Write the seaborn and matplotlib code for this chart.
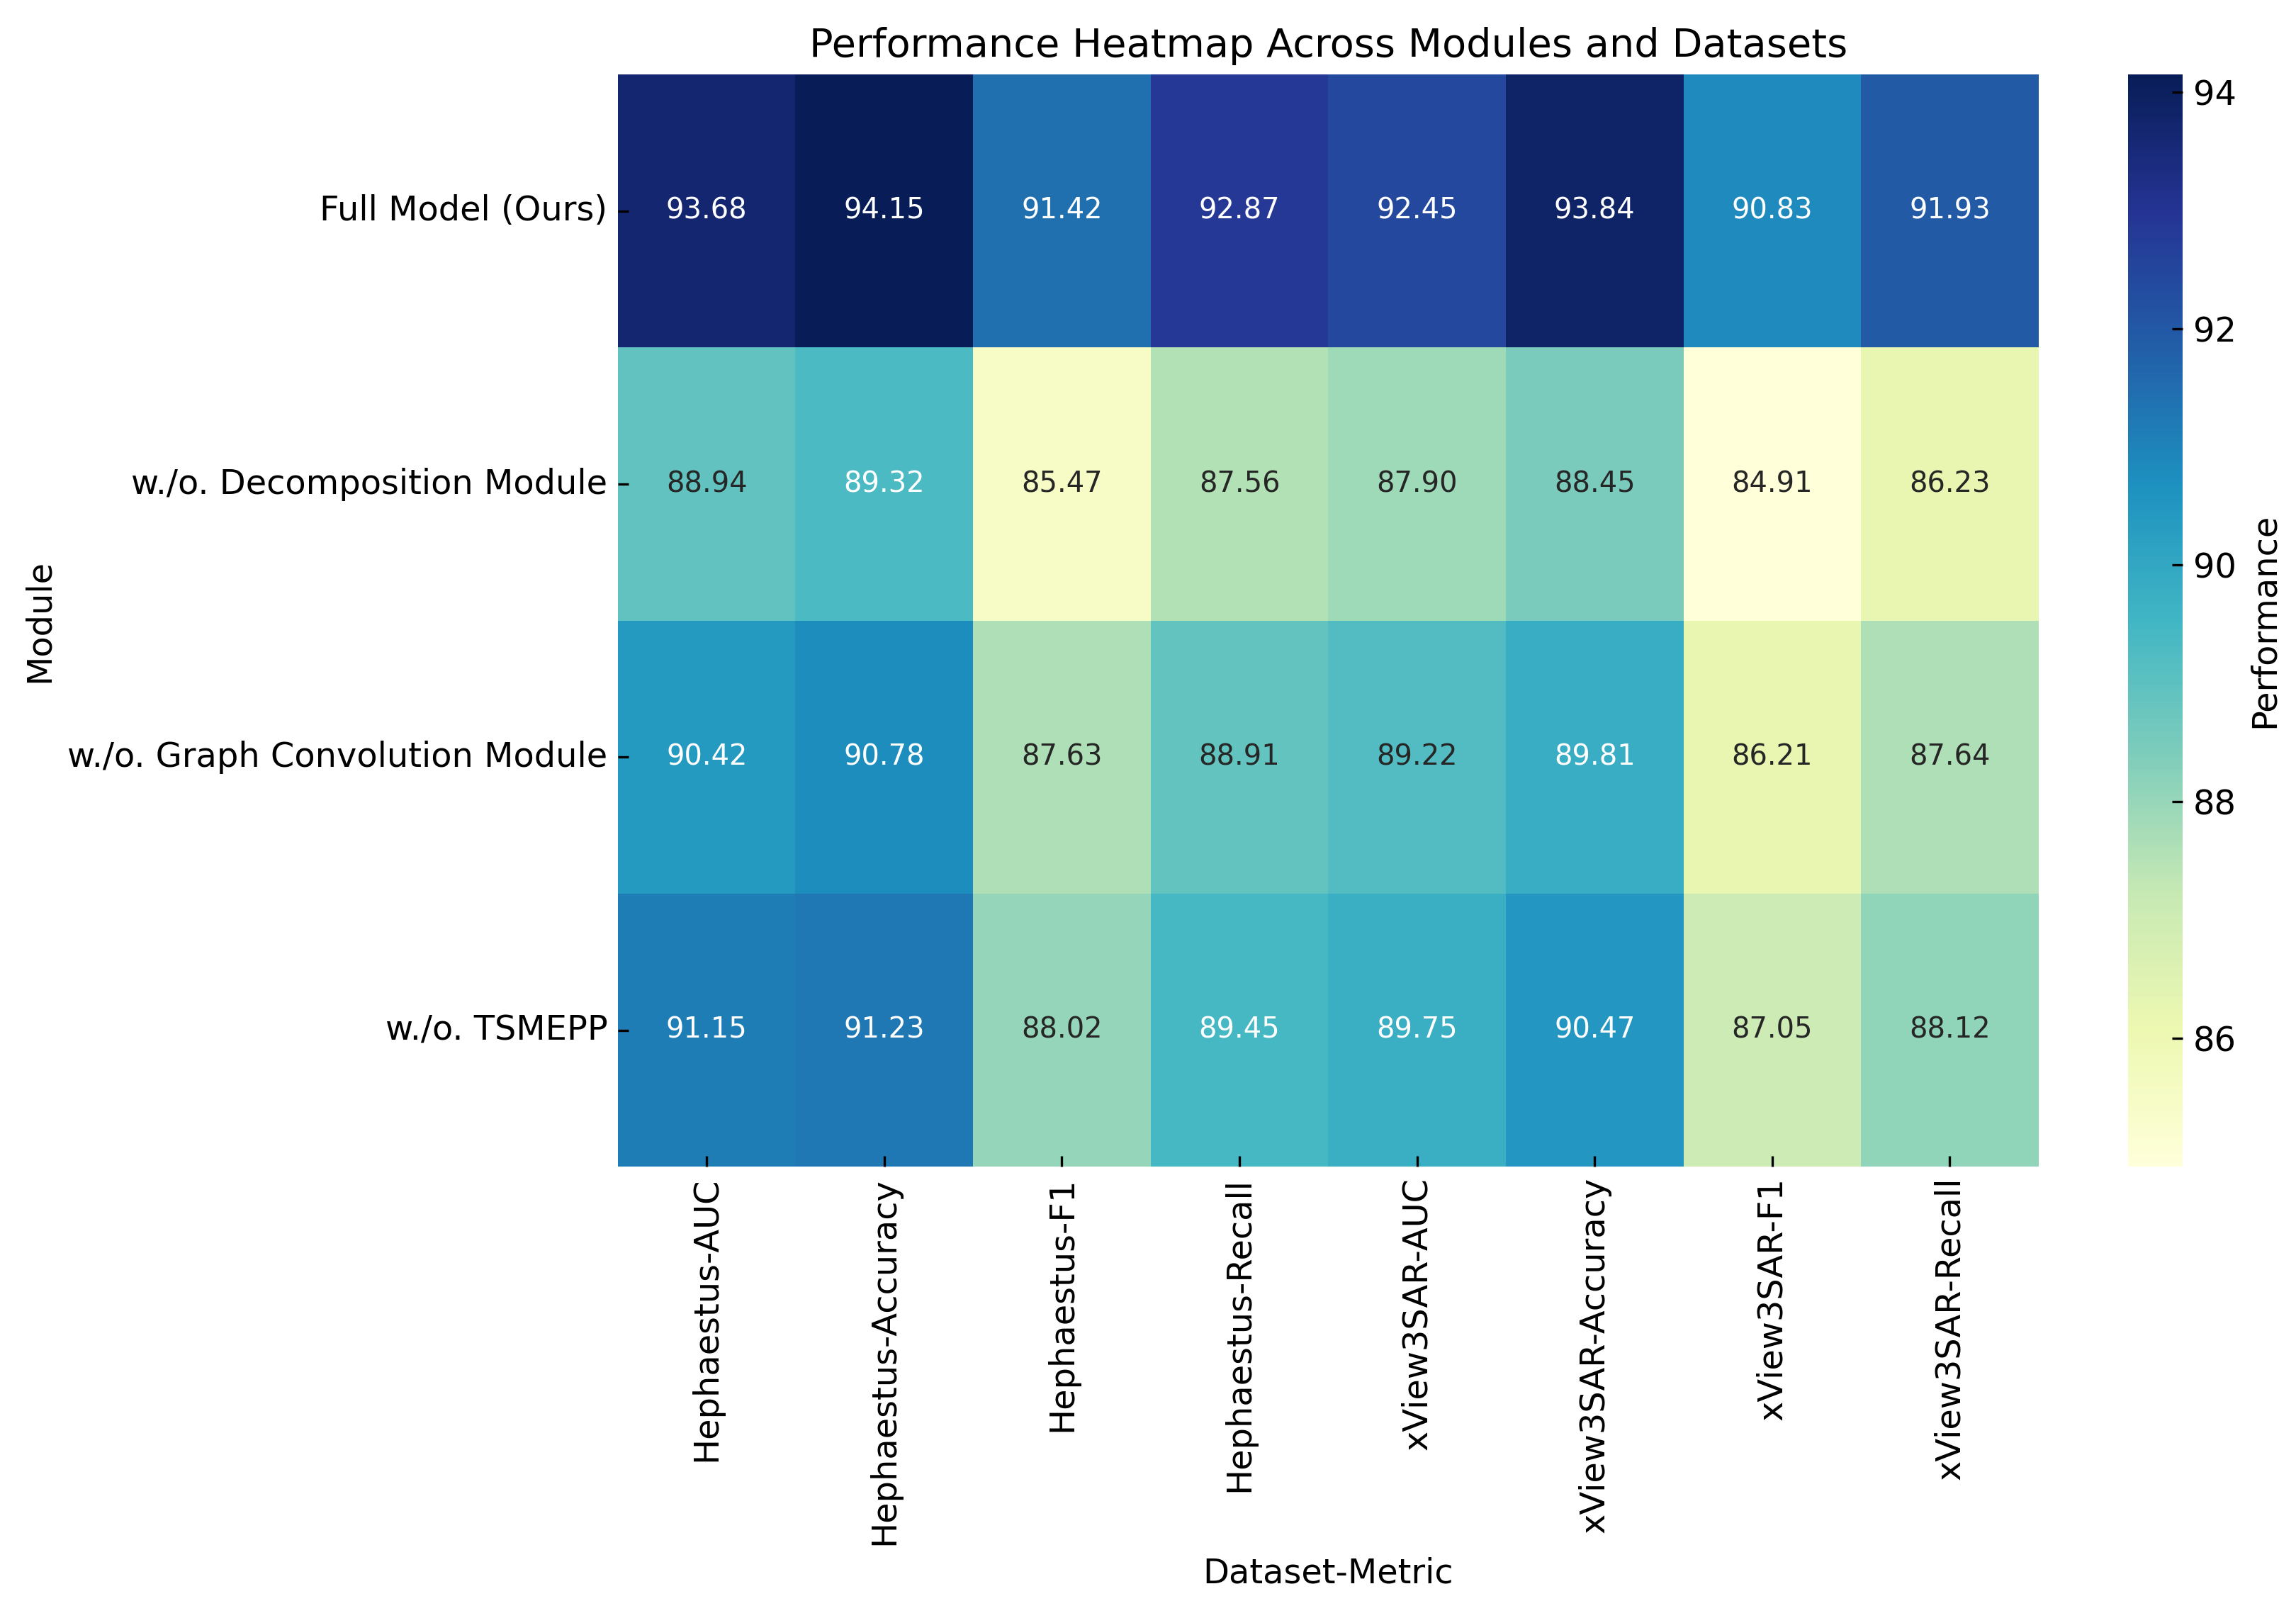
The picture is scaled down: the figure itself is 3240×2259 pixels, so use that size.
import seaborn as sns
import matplotlib.pyplot as plt
import pandas as pd

# Modules (rows) and dataset-metric columns
modules = [
    "Full Model (Ours)",
    "w./o. Decomposition Module",
    "w./o. Graph Convolution Module",
    "w./o. TSMEPP",
]
columns = [
    "Hephaestus-AUC", "Hephaestus-Accuracy", "Hephaestus-F1", "Hephaestus-Recall",
    "xView3SAR-AUC", "xView3SAR-Accuracy", "xView3SAR-F1", "xView3SAR-Recall",
]

full_model = [93.68, 94.15, 91.42, 92.87, 92.45, 93.84, 90.83, 91.93]
no_decomp = [88.94, 89.32, 85.47, 87.56, 87.90, 88.45, 84.91, 86.23]
no_graph = [90.42, 90.78, 87.63, 88.91, 89.22, 89.81, 86.21, 87.64]
no_tsmepp = [91.15, 91.23, 88.02, 89.45, 89.75, 90.47, 87.05, 88.12]

df = pd.DataFrame([full_model, no_decomp, no_graph, no_tsmepp], index=modules, columns=columns)
df.index.name = "Module"
df.columns.name = "Dataset-Metric"

plt.rcParams["xtick.direction"] = "in"
plt.rcParams["ytick.direction"] = "in"

fig = plt.figure(figsize=(10.8, 7.53), dpi=300)
ax = fig.add_axes([0.2691, 0.2712, 0.6188, 0.6823])
cax = fig.add_axes([0.9268, 0.2712, 0.0238, 0.6823])

sns.heatmap(df, annot=True, fmt=".2f", cmap="YlGnBu", ax=ax, cbar_ax=cax,
            cbar_kws={"label": "Performance"}, annot_kws={"size": 9.6})

ax.set_title("Performance Heatmap Across Modules and Datasets", fontsize=13.4)
ax.set_xlabel("Dataset-Metric", fontsize=11.5)
ax.set_ylabel("Module", fontsize=11.5)
ax.tick_params(axis="both", labelsize=11.5)
plt.setp(ax.get_xticklabels(), rotation=90)
plt.setp(ax.get_yticklabels(), rotation=0)
cax.tick_params(labelsize=11.5)
cax.yaxis.label.set_size(11.5)

fig.savefig("out.png", dpi=300)
